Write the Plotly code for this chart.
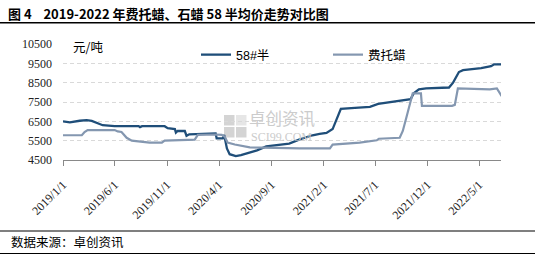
import plotly.graph_objects as go

# 58#半 (paraffin wax 58 semi-refined) price, yuan/ton
dates_58 = ["2019-01-01","2019-01-21","2019-02-19","2019-03-11","2019-03-26","2019-04-10","2019-04-27",
            "2019-06-01","2019-07-15","2019-08-10","2019-08-14","2019-08-20","2019-09-11","2019-10-25","2019-11-03",
            "2019-11-24","2019-11-27","2019-12-02","2019-12-23","2019-12-28","2020-01-05","2020-02-04",
            "2020-03-22","2020-03-25","2020-04-12","2020-04-16","2020-04-24","2020-05-02","2020-05-20",
            "2020-06-04","2020-06-27","2020-07-21","2020-08-17","2020-09-24","2020-10-23","2020-11-21",
            "2020-12-30","2021-01-20","2021-02-09","2021-02-27","2021-03-11","2021-03-23","2021-05-03",
            "2021-06-16","2021-07-10","2021-08-14","2021-09-28","2021-10-13","2021-10-22","2021-11-06",
            "2021-11-27","2022-02-02","2022-02-14","2022-03-03","2022-03-15","2022-05-07","2022-06-05",
            "2022-06-14","2022-07-06"]
vals_58 = [6500,6450,6530,6560,6520,6400,6300,
           6250,6250,6250,6200,6250,6250,6250,6150,
           6100,5920,6000,6000,5750,5830,5850,
           5880,5620,5620,5800,5100,4800,4700,
           4750,4870,5000,5200,5280,5350,5550,
           5780,5850,5900,6100,6600,7150,7200,
           7250,7400,7500,7600,7650,7950,8150,
           8200,8250,8500,9050,9150,9250,9350,
           9450,9450]

# 费托蜡 (Fischer-Tropsch wax) price, yuan/ton
dates_ft = ["2019-01-01","2019-02-25","2019-03-05","2019-03-14","2019-06-01","2019-06-10","2019-06-21",
            "2019-07-06","2019-07-21","2019-08-28","2019-09-11","2019-10-17","2019-10-25","2020-01-21",
            "2020-01-30","2020-03-22","2020-04-09","2020-04-18","2020-04-26","2020-05-17","2020-06-30",
            "2020-11-23","2021-02-19","2021-02-27","2021-03-20","2021-05-17","2021-07-06","2021-07-12",
            "2021-09-11","2021-09-20","2021-10-02","2021-10-11","2021-10-19","2021-11-12","2021-11-15",
            "2022-02-11","2022-02-19","2022-02-28","2022-06-01","2022-06-22","2022-06-28","2022-07-06"]
vals_ft = [5780,5780,5950,6050,6050,5980,5950,
           5650,5500,5450,5400,5400,5500,5550,
           5800,5820,5800,5700,5400,5300,5150,
           5100,5100,5300,5320,5400,5520,5600,
           5650,6000,6800,7500,7950,7950,7300,
           7300,7350,8200,8150,8200,8000,7800]

tick_dates = ["2019-01-01","2019-06-01","2019-11-01","2020-04-01","2020-09-01",
              "2021-02-01","2021-07-01","2021-12-01","2022-05-01"]
tick_text = ["2019/1/1","2019/6/1","2019/11/1","2020/4/1","2020/9/1",
             "2021/2/1","2021/7/1","2021/12/1","2022/5/1"]
y_ticks = [4500,5500,6500,7500,8500,9500,10500]
y_tick_text = ["4500","5500","6500","7500","8500","9500","10500"]

title_text = "图 4\u00a0\u00a0\u00a0\u00a02019-2022 年费托蜡、石蜡 58 半均价走势对比图"
source_text = "数据来源：卓创资讯"
unit_text = "元/吨"

W, H = 535, 255
L, R, T, B = 63, 501, 44, 160
pw, ph = R - L, B - T
def px(x):
    return (x - L) / pw
def py(y):
    return (B - y) / ph

fig = go.Figure()
fig.add_trace(go.Scatter(x=dates_58, y=vals_58, mode="lines", name="58#半",
                         line=dict(color="#1f4e79", width=2.3)))
fig.add_trace(go.Scatter(x=dates_ft, y=vals_ft, mode="lines", name="费托蜡",
                         line=dict(color="#8497b0", width=2.2)))

cjk = "Noto Sans CJK SC"
shapes = [
    dict(type="line", xref="paper", yref="paper", x0=px(0), x1=px(535), y0=py(22.7), y1=py(22.7),
         line=dict(color="black", width=1.5)),
    dict(type="line", xref="paper", yref="paper", x0=px(0), x1=px(535), y0=py(231), y1=py(231),
         line=dict(color="black", width=1.2)),
    dict(type="line", xref="paper", yref="paper", x0=px(0), x1=px(535), y0=py(253.5), y1=py(253.5),
         line=dict(color="black", width=1.2)),
]
# watermark logo squares
for (x0, y0) in [(224, 115), (236, 115), (224, 127), (236, 127)]:
    shapes.append(dict(type="rect", xref="paper", yref="paper", layer="below",
                       x0=px(x0), x1=px(x0 + 10.5), y0=py(y0), y1=py(y0 + 10.5),
                       fillcolor="#d4d4d4" if (x0, y0) != (236, 115) else "#e6e6e6", line=dict(width=0)))

annotations = [
    dict(text=source_text, xref="paper", yref="paper", x=px(9), y=py(241), xanchor="left", yanchor="middle",
         showarrow=False, font=dict(family=cjk, size=12.5, color="black")),
    dict(text=unit_text, xref="paper", yref="paper", x=px(71), y=py(46), xanchor="left", yanchor="middle",
         showarrow=False, font=dict(family=cjk, size=12.5, color="black")),
    dict(text="卓创资讯", xref="paper", yref="paper", x=px(247), y=py(118.5), xanchor="left", yanchor="middle",
         showarrow=False, font=dict(family=cjk, size=16.5, color="#cccccc")),
    dict(text="SCI99.COM", xref="paper", yref="paper", x=px(249), y=py(136.5), xanchor="left", yanchor="middle",
         showarrow=False, font=dict(family="Liberation Serif", size=12, color="#cccccc")),
]

fig.update_layout(
    width=W, height=H,
    margin=dict(l=L, r=W - R, t=T, b=H - B, pad=0),
    paper_bgcolor="white", plot_bgcolor="white",
    title=dict(text="<b>" + title_text + "</b>", xref="container", yref="container",
               x=8 / W, y=1 - 14 / H, xanchor="left", yanchor="middle",
               font=dict(family=cjk, size=13, color="black")),
    showlegend=True,
    legend=dict(orientation="h", x=px(196), y=py(55), xanchor="left", yanchor="middle",
                bgcolor="rgba(0,0,0,0)", font=dict(family="Liberation Sans, " + cjk, size=12.5, color="black"),
                entrywidth=87, entrywidthmode="pixels", traceorder="normal"),
    xaxis=dict(type="date", range=["2019-01-01", "2022-07-04"], tickvals=tick_dates, ticktext=tick_text,
               tickangle=-45, showgrid=False, showline=True, linecolor="#898989", linewidth=1,
               ticks="outside", ticklen=5, tickcolor="#898989", ticklabelstandoff=7,
               tickfont=dict(family="Liberation Serif", size=12, color="#222222"), zeroline=False),
    yaxis=dict(range=[4500, 10500], tickvals=y_ticks, ticktext=y_tick_text, showgrid=True, gridcolor="#d9d9d9",
               griddash="4px,3px", gridwidth=1, zeroline=False, showline=False, ticks="",
               ticklabelstandoff=10,
               tickfont=dict(family="Liberation Serif", size=12, color="#222222")),
    shapes=shapes, annotations=annotations,
)

fig.write_html("out.html")
